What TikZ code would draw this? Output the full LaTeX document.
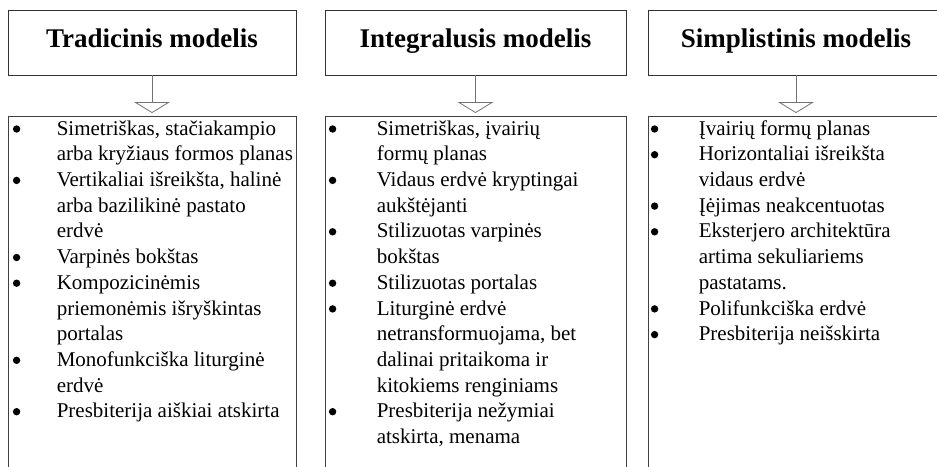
\documentclass[tikz,border=0pt]{standalone}
\usepackage{fontspec}
\setmainfont{Liberation Serif}
\usetikzlibrary{arrows.meta,positioning}

\begin{document}
\begin{tikzpicture}[x=1pt, y=1pt,
    titlebox/.style={draw=black!80, line width=0.8pt, minimum height=65pt,
        text height=18pt, text depth=9pt, font=\fontsize{27}{32}\selectfont\bfseries},
    listbox/.style={draw=black!75, line width=0.8pt, anchor=north, minimum height=380pt},
    listtext/.style={anchor=north west, inner sep=0pt, align=left,
        font=\fontsize{21}{25.7}\selectfont},
    bullet/.style={fill=black},
    link/.style={draw=black!55, line width=0.8pt,
        -{Triangle[open, width=36pt, length=11pt]}, shorten >=3pt}]

    \useasboundingbox (0,0) rectangle (937,-466);
    \clip (0,0) rectangle (937,-466);

    % Tradicinis modelis
    \node[titlebox, minimum width=288pt] (trad) at (152,-42.5) {Tradicinis modelis};
    \node[listbox, minimum width=288pt] (tradlist) at (152,-116) {};
    \draw[link] (trad) -- (tradlist);
    \node[listtext] (tradtext) at ([shift={(49pt,-1pt)}]tradlist.north west) {%
        \begin{tabular}{@{}l@{}}
        Simetriškas, stačiakampio\\
        arba kryžiaus formos planas\\
        Vertikaliai išreikšta, halinė\\
        arba bazilikinė pastato\\
        erdvė\\
        Varpinės bokštas\\
        Kompozicinėmis\\
        priemonėmis išryškintas\\
        portalas\\
        Monofunkciška liturginė\\
        erdvė\\
        Presbiterija aiškiai atskirta
        \end{tabular}};
    \foreach \row in {0,2,5,6,9,11}
        \fill[bullet] ([shift={(9pt,{-13pt-\row*25.7pt})}]tradlist.north west) circle (3.7pt);

    % Integralusis modelis
    \node[titlebox, minimum width=301pt] (integ) at (475.5,-42.5) {Integralusis modelis};
    \node[listbox, minimum width=301pt] (integlist) at (475.5,-116) {};
    \draw[link] (integ) -- (integlist);
    \node[listtext] (integtext) at ([shift={(52pt,-1pt)}]integlist.north west) {%
        \begin{tabular}{@{}l@{}}
        Simetriškas, įvairių\\
        formų planas\\
        Vidaus erdvė kryptingai\\
        aukštėjanti\\
        Stilizuotas varpinės\\
        bokštas\\
        Stilizuotas portalas\\
        Liturginė erdvė\\
        netransformuojama, bet\\
        dalinai pritaikoma ir\\
        kitokiems renginiams\\
        Presbiterija nežymiai\\
        atskirta, menama
        \end{tabular}};
    \foreach \row in {0,2,4,6,7,11}
        \fill[bullet] ([shift={(8pt,{-13pt-\row*25.7pt})}]integlist.north west) circle (3.7pt);

    % Simplistinis modelis
    \node[titlebox, minimum width=296pt] (simpl) at (796,-42.5) {Simplistinis modelis};
    \node[listbox, minimum width=296pt] (simpllist) at (796,-116) {};
    \draw[link] (simpl) -- (simpllist);
    \node[listtext] (simpltext) at ([shift={(51pt,-1pt)}]simpllist.north west) {%
        \begin{tabular}{@{}l@{}}
        Įvairių formų planas\\
        Horizontaliai išreikšta\\
        vidaus erdvė\\
        Įėjimas neakcentuotas\\
        Eksterjero architektūra\\
        artima sekuliariems\\
        pastatams.\\
        Polifunkciška erdvė\\
        Presbiterija neišskirta
        \end{tabular}};
    \foreach \row in {0,1,3,4,7,8}
        \fill[bullet] ([shift={(7pt,{-13pt-\row*25.7pt})}]simpllist.north west) circle (3.7pt);
\end{tikzpicture}
\end{document}
